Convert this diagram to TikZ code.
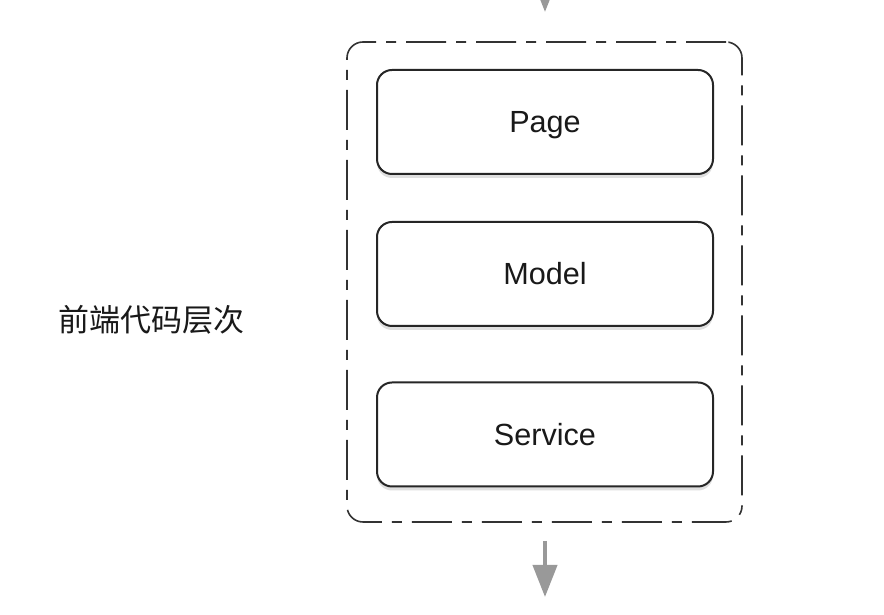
\documentclass[tikz,border=0pt]{standalone}
\usepackage{fontspec}
\setmainfont{Liberation Sans}
\newfontfamily\cjk{Noto Sans CJK SC}
\usetikzlibrary{arrows.meta,shadows}

\begin{document}
\begin{tikzpicture}[x=0.5pt,y=0.5pt,
    layer/.style={draw=black!85,line width=1pt,rounded corners=7.5pt,fill=white,
      minimum width=168pt,minimum height=52pt,font=\fontsize{15.3}{18}\selectfont,text=black!90,
      text height=11pt,text depth=0pt,
      drop shadow={opacity=0.25,shadow xshift=0pt,shadow yshift=-2pt}},
    frame/.style={draw=black!80,line width=0.8pt,rounded corners=8pt,
      dash pattern=on 20pt off 5pt on 5pt off 5pt,minimum width=197.5pt,minimum height=240pt},
    flow/.style={draw=black!40,line width=2pt,-{Triangle[length=16pt,width=12pt]}}]
      % \draw[help lines](0,0) grid[step=50] (884,615);
      \fill[white] (0,0) rectangle (884,615);
      \clip (0,0) rectangle (884,615);

      \draw (544.5,333) node[frame] (layers) {};
      \draw (545,493) node[layer] (page) {Page};
      \draw (545,341) node[layer] (model) {Model};
      \draw (545,180.5) node[layer] (service) {Service};

      \draw (151,295) node[font=\cjk\fontsize{15.5}{18}\selectfont,text=black!90] (title) {前端代码层次};

      \coordinate (in top) at (545,660);
      \coordinate (in end) at (545,603);
      \coordinate (out top) at (545,74);
      \coordinate (out end) at (545,18);
      \draw[flow] (in top) -- (in end);
      \draw[flow] (out top) -- (out end);
    \end{tikzpicture}
\end{document}
